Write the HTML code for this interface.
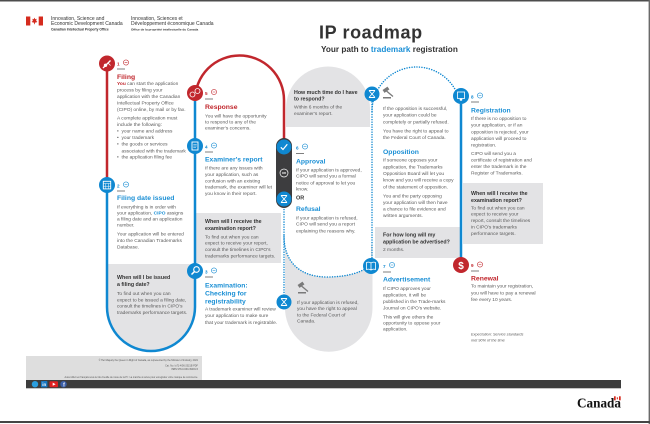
<!DOCTYPE html>
<html><head><meta charset="utf-8">
<style>
html,body{margin:0;padding:0;background:#fff;width:650px;height:424px;overflow:hidden}
svg{display:block}
.b{font-size:4.85px;fill:#5b5b5b}
.h{font-size:6.8px;font-weight:bold}
.q{font-size:5.3px;font-weight:bold;fill:#333}
.n{font-size:4.6px;font-weight:bold}
.hb{fill:#1a8fd5}.hr{fill:#c1272d}
</style></head>
<body>
<svg width="650" height="424" viewBox="0 0 650 424" xmlns="http://www.w3.org/2000/svg" font-family="'Liberation Sans', Arial, sans-serif">
<!-- frame -->
<rect x="0" y="0" width="650" height="1.5" fill="#4d4d4d"/>
<rect x="648.6" y="0" width="1.4" height="424" fill="#6a6a6a"/>
<rect x="0" y="421" width="650" height="2" fill="#454545"/>

<!-- header -->
<rect x="26" y="16.5" width="17" height="9" fill="#fff"/>
<rect x="26" y="16.5" width="4.3" height="9" fill="#d52b1e"/>
<rect x="38.7" y="16.5" width="4.3" height="9" fill="#d52b1e"/>
<path d="M34.5 17.6 L35.3 19.3 L36.6 18.8 L36.1 21.4 L37.2 21 L36.9 22.3 L35 22.6 L34.8 24.3 L34.2 24.3 L34 22.6 L32.1 22.3 L31.8 21 L32.9 21.4 L32.4 18.8 L33.7 19.3 Z" fill="#d52b1e"/>
<text x="51" y="19.8" font-size="5" fill="#333">Innovation, Science and</text>
<text x="51" y="25.2" font-size="5" fill="#333">Economic Development Canada</text>
<text x="51" y="30.4" font-size="3.3" font-weight="bold" fill="#333">Canadian Intellectual Property Office</text>
<text x="131" y="19.8" font-size="5" fill="#333">Innovation, Sciences et</text>
<text x="131" y="25.2" font-size="5" fill="#333">Développement économique Canada</text>
<text x="131" y="30.4" font-size="3.1" font-weight="bold" fill="#333">Office de la propriété intellectuelle du Canada</text>

<text x="319" y="38.5" font-size="18" font-weight="bold" letter-spacing="0.6" fill="#333">IP roadmap</text>
<text x="321" y="52" font-size="8.2" font-weight="bold" fill="#333">Your path to <tspan fill="#1a8fd6">trademark</tspan> registration</text>

<!-- grey shapes -->
<path d="M107 264 H195 V307 A44 44 0 0 1 107 307 Z" fill="#e3e3e5"/>
<rect x="196" y="213" width="85" height="50" fill="#e3e3e5"/>
<path d="M286 127 V108.5 A42 42 0 0 1 370 108.5 V127 Z" fill="#e3e3e5"/>
<path d="M285 245 H372.5 V308 A43.75 43.75 0 0 1 285 308 Z" fill="#e3e3e5"/>
<path d="M284 207 V236 C284 262 300 277 327 277 C348 277 364 272 371 264 V207 Z" fill="#fff"/>
<rect x="375" y="227" width="85" height="31" fill="#e3e3e5"/>
<rect x="463" y="183" width="80" height="61" fill="#e3e3e5"/>

<!-- connectors -->
<path d="M107 70 V178" stroke="#c1272d" stroke-width="2.5" fill="none"/>
<path d="M107 192 V307 A44 44 0 0 0 195 307 V101" stroke="#0f88d1" stroke-width="2.5" fill="none"/>
<path d="M195 100 A44.5 44.5 0 0 1 284 100 V141" stroke="#c1272d" stroke-width="2.5" fill="none"/>
<path d="M461 104 V258" stroke="#0f88d1" stroke-width="2.5" fill="none"/>
<g stroke="#0f88d1" stroke-width="1.5" stroke-linecap="round" stroke-dasharray="0.01 2.5" fill="none">
<path d="M284 207 V295"/>
<path d="M284 236 C284 262 300 277 327 277 C348 277 364 272 371 264"/>
<path d="M372 102 V258"/>
<path d="M372 111.5 A44.5 44.5 0 0 1 461 111.5"/>
</g>

<!-- dark pill -->
<rect x="276" y="138" width="16" height="70" rx="8" fill="#3d3d3f"/>

<!-- circles -->
<circle cx="107" cy="63.5" r="8" fill="#c1272d"/>
<path d="M103 68 L110.5 60.5" stroke="#fff" stroke-width="1.3"/><circle cx="105.5" cy="65.3" r="1.7" fill="#fff"/><path d="M108 63 l2.5 2.5" stroke="#fff" stroke-width="0.8"/>
<circle cx="107" cy="185" r="8" fill="#0f88d1"/>
<rect x="103.3" y="181.3" width="7.4" height="7.6" fill="none" stroke="#fff" stroke-width="0.9"/><path d="M103.3 183.5 H110.7 M105.8 183.5 V188.9 M108.3 183.5 V188.9 M103.3 186.2 H110.7" stroke="#fff" stroke-width="0.5"/>
<circle cx="195" cy="271" r="8" fill="#0f88d1"/>
<circle cx="196.5" cy="269.5" r="2.8" fill="none" stroke="#fff" stroke-width="1.1"/><path d="M194.5 271.5 L191.5 274.5" stroke="#fff" stroke-width="1.5"/>
<circle cx="195" cy="146" r="8" fill="#0f88d1"/>
<rect x="192" y="142" width="6" height="8" fill="none" stroke="#fff" stroke-width="0.9"/><path d="M193.3 144.3 H196.7 M193.3 146 H196.7 M193.3 147.7 H196" stroke="#fff" stroke-width="0.5"/>
<circle cx="195" cy="93" r="8" fill="#c1272d"/>
<circle cx="192.5" cy="94.5" r="2.5" fill="none" stroke="#fff" stroke-width="0.8"/><circle cx="197.5" cy="91" r="2.5" fill="none" stroke="#fff" stroke-width="0.8"/>
<circle cx="284" cy="147" r="7.5" fill="#0f88d1"/>
<path d="M280.8 147.3 L283 149.5 L287.3 144.3" stroke="#fff" stroke-width="1.2" fill="none"/>
<circle cx="284" cy="173" r="4" fill="#3d3d3f" stroke="#fff" stroke-width="0.7"/>
<text x="284" y="174" font-size="2.6" font-weight="bold" fill="#fff" text-anchor="middle">OR</text>
<circle cx="284" cy="199" r="7.5" fill="#0f88d1"/>
<path d="M281 195.5 L287 202.5 M287 195.5 L281 202.5 M281 195.5 H287 M281 202.5 H287" stroke="#fff" stroke-width="0.9" fill="none"/>
<circle cx="284" cy="302" r="7.5" fill="#0f88d1"/>
<path d="M281 298.5 L287 305.5 M287 298.5 L281 305.5 M281 298.5 H287 M281 305.5 H287" stroke="#fff" stroke-width="0.9" fill="none"/>
<circle cx="372" cy="94" r="7.5" fill="#0f88d1"/>
<path d="M369 90.5 L375 97.5 M375 90.5 L369 97.5 M369 90.5 H375 M369 97.5 H375" stroke="#fff" stroke-width="0.9" fill="none"/>
<circle cx="371" cy="266" r="8" fill="#0f88d1"/>
<path d="M366.5 262.5 Q369 261.5 371 263 Q373 261.5 375.5 262.5 V269.5 Q373 268.5 371 270 Q369 268.5 366.5 269.5 Z M371 263 V270" stroke="#fff" stroke-width="0.8" fill="none"/>
<circle cx="461" cy="96" r="8" fill="#0f88d1"/>
<rect x="457.5" y="92" width="7" height="6.5" fill="none" stroke="#fff" stroke-width="0.8"/><circle cx="461" cy="99.5" r="1.3" fill="#fff"/>
<circle cx="461" cy="265" r="8" fill="#c1272d"/>
<text x="461" y="268.8" font-size="10" font-weight="bold" fill="#fff" text-anchor="middle">$</text>

<!-- gavels -->
<g fill="#7a7a7a"><rect x="383" y="88" width="6" height="3.4" transform="rotate(-35 386 89.7)"/><path d="M386.5 91 L393 96.5" stroke="#7a7a7a" stroke-width="1.3"/><rect x="383" y="97" width="8" height="1.5"/></g>
<g fill="#7a7a7a"><rect x="298" y="283" width="6" height="3.4" transform="rotate(-35 301 284.7)"/><path d="M301.5 286 L308 291.5" stroke="#7a7a7a" stroke-width="1.3"/><rect x="298" y="292" width="8" height="1.5"/></g>

<!-- labels -->
<g class="n">
<text x="117" y="65.5" fill="#c1272d">1</text>
<text x="117" y="187.5" fill="#0f88d1">2</text>
<text x="205" y="273.5" fill="#0f88d1">3</text>
<text x="205" y="148.5" fill="#0f88d1">4</text>
<text x="205" y="95" fill="#c1272d">5</text>
<text x="296" y="149.5" fill="#0f88d1">6</text>
<text x="383" y="268" fill="#0f88d1">7</text>
<text x="471" y="98.5" fill="#0f88d1">8</text>
<text x="471" y="267" fill="#c1272d">9</text>
</g>
<g fill="none" stroke-width="0.6">
<circle cx="126" cy="62.5" r="2.6" stroke="#c1272d"/><circle cx="126" cy="184.5" r="2.6" stroke="#0f88d1"/>
<circle cx="214" cy="270.5" r="2.6" stroke="#0f88d1"/><circle cx="214" cy="145.5" r="2.6" stroke="#0f88d1"/>
<circle cx="214" cy="92" r="2.6" stroke="#c1272d"/><circle cx="305" cy="146.5" r="2.6" stroke="#0f88d1"/>
<circle cx="392" cy="265" r="2.6" stroke="#0f88d1"/><circle cx="480" cy="95.5" r="2.6" stroke="#0f88d1"/>
<circle cx="480" cy="264.5" r="2.6" stroke="#c1272d"/>
<path d="M124.6 62.5 h2.8" stroke="#c1272d"/><path d="M124.6 184.5 h2.8 M212.6 270.5 h2.8 M212.6 145.5 h2.8 M303.6 146.5 h2.8 M390.6 265 h2.8 M478.6 95.5 h2.8" stroke="#0f88d1"/>
<path d="M212.6 92 h2.8 M478.6 264.5 h2.8" stroke="#c1272d"/>
</g>
<g stroke="#555" stroke-width="0.7">
<path d="M117 69 h8 M117 191 h8 M205 277 h8 M205 152 h8 M205 99 h8 M296 153.5 h8 M383 272 h8 M471 102 h8 M471 271 h8"/>
</g>

<!-- Filing -->
<text x="117" y="79" class="h hr">Filing</text>
<g class="b">
<text x="117" y="85"><tspan fill="#c1272d" font-weight="bold">You</tspan> can start the application</text>
<text x="117" y="91.4">process by filing your</text>
<text x="117" y="97.9">application with the Canadian</text>
<text x="117" y="104.3">Intellectual Property Office</text>
<text x="117" y="110.9">(CIPO) online, by mail or by fax.</text>
<text x="117" y="119.6">A complete application must</text>
<text x="117" y="125.8">include the following:</text>
<text x="117" y="132.3">•</text><text x="121.5" y="132.3">your name and address</text>
<text x="117" y="138.9">•</text><text x="121.5" y="138.9">your trademark</text>
<text x="117" y="145.6">•</text><text x="121.5" y="145.6">the goods or services</text>
<text x="121.5" y="152.3">associated with the trademark</text>
<text x="117" y="158.4">•</text><text x="121.5" y="158.4">the application filing fee</text>
</g>

<!-- Filing date issued -->
<text x="117" y="200" class="h hb">Filing date issued</text>
<g class="b">
<text x="117" y="208.3">If everything is in order with</text>
<text x="117" y="214.3">your application, <tspan fill="#1a8fd5" font-weight="bold">CIPO</tspan> assigns</text>
<text x="117" y="220.6">a filing date and an application</text>
<text x="117" y="226.6">number.</text>
<text x="117" y="235.6">Your application will be entered</text>
<text x="117" y="241.9">into the Canadian Trademarks</text>
<text x="117" y="248.3">Database.</text>
</g>
<text x="117" y="279" class="q">When will I be issued</text>
<text x="117" y="286" class="q">a filing date?</text>
<g class="b">
<text x="117" y="295">To find out when you can</text>
<text x="117" y="301.3">expect to be issued a filing date,</text>
<text x="117" y="307.6">consult the timelines in CIPO's</text>
<text x="117" y="313.9">trademarks performance targets.</text>
</g>

<!-- Examination -->
<text x="205" y="287.3" class="h hb">Examination:</text>
<text x="205" y="295.5" class="h hb">Checking for</text>
<text x="205" y="303.3" class="h hb">registrability</text>
<g class="b">
<text x="205" y="310.6">A trademark examiner will review</text>
<text x="205" y="317.2">your application to make sure</text>
<text x="205" y="323.8">that your trademark is registrable.</text>
</g>

<!-- Examiner's report -->
<text x="205" y="161.6" class="h hb">Examiner's report</text>
<g class="b">
<text x="205" y="169.3">If there are any issues with</text>
<text x="205" y="175.9">your application, such as</text>
<text x="205" y="182.3">confusion with an existing</text>
<text x="205" y="188.6">trademark, the examiner will let</text>
<text x="205" y="194.9">you know in their report.</text>
</g>
<text x="205" y="222.8" class="q">When will I receive the</text>
<text x="205" y="230" class="q">examination report?</text>
<g class="b">
<text x="205" y="238.3">To find out when you can</text>
<text x="205" y="244.6">expect to receive your report,</text>
<text x="205" y="250.9">consult the timelines in CIPO's</text>
<text x="205" y="257.6">trademarks performance targets.</text>
</g>

<!-- Response -->
<text x="205" y="109" class="h hr">Response</text>
<g class="b">
<text x="205" y="117.3">You will have the opportunity</text>
<text x="205" y="123.3">to respond to any of the</text>
<text x="205" y="129.6">examiner's concerns.</text>
</g>

<!-- Approval / Refusal -->
<text x="296" y="163.3" class="h hb">Approval</text>
<g class="b">
<text x="296" y="171.3">If your application is approved,</text>
<text x="296" y="177.6">CIPO will send you a formal</text>
<text x="296" y="184.3">notice of approval to let you</text>
<text x="296" y="190.6">know.</text>
</g>
<text x="296" y="199.3" font-size="5.5" font-weight="bold" fill="#333">OR</text>
<text x="296" y="211" class="h hb">Refusal</text>
<g class="b">
<text x="296" y="219.6">If your application is refused,</text>
<text x="296" y="225.6">CIPO will send you a report</text>
<text x="296" y="232.6">explaining the reasons why.</text>
</g>

<!-- time to respond -->
<text x="294" y="93.8" class="q">How much time do I have</text>
<text x="294" y="100.5" class="q">to respond?</text>
<g class="b">
<text x="294" y="108.3">Within 6 months of the</text>
<text x="294" y="115">examiner's report.</text>
</g>

<!-- lower grey -->
<g class="b">
<text x="297" y="303.9">If your application is refused,</text>
<text x="297" y="310">you have the right to appeal</text>
<text x="297" y="316.3">to the Federal Court of</text>
<text x="297" y="322.6">Canada.</text>
</g>

<!-- Opposition -->
<g class="b">
<text x="383" y="109.9">If the opposition is successful,</text>
<text x="383" y="116.6">your application could be</text>
<text x="383" y="123.3">completely or partially refused.</text>
<text x="383" y="132.6">You have the right to appeal to</text>
<text x="383" y="138.9">the Federal Court of Canada.</text>
</g>
<text x="383" y="154" class="h hb">Opposition</text>
<g class="b">
<text x="383" y="161.6">If someone opposes your</text>
<text x="383" y="168.3">application, the Trademarks</text>
<text x="383" y="174.9">Opposition Board will let you</text>
<text x="383" y="181.6">know and you will receive a copy</text>
<text x="383" y="188.3">of the statement of opposition.</text>
<text x="383" y="197.3">You and the party opposing</text>
<text x="383" y="203.9">your application will then have</text>
<text x="383" y="210.6">a chance to file evidence and</text>
<text x="383" y="217">written arguments.</text>
</g>
<text x="383" y="236.4" class="q">For how long will my</text>
<text x="383" y="243.4" class="q">application be advertised?</text>
<text x="383" y="251" class="b">2 months.</text>

<!-- Advertisement -->
<text x="383" y="281.6" class="h hb">Advertisement</text>
<g class="b">
<text x="383" y="289.9">If CIPO approves your</text>
<text x="383" y="296.3">application, it will be</text>
<text x="383" y="302.9">published in the Trade-marks</text>
<text x="383" y="309.3">Journal on CIPO's website.</text>
<text x="383" y="318.3">This will give others the</text>
<text x="383" y="324.6">opportunity to oppose your</text>
<text x="383" y="330.6">application.</text>
</g>

<!-- Registration -->
<text x="471" y="112.3" class="h hb">Registration</text>
<g class="b">
<text x="471" y="119.9">If there is no opposition to</text>
<text x="471" y="126.6">your application, or if an</text>
<text x="471" y="133.3">opposition is rejected, your</text>
<text x="471" y="139.9">application will proceed to</text>
<text x="471" y="146.6">registration.</text>
<text x="471" y="154.9">CIPO will send you a</text>
<text x="471" y="161.6">certificate of registration and</text>
<text x="471" y="167.9">enter the trademark in the</text>
<text x="471" y="174.3">Register of Trademarks.</text>
</g>
<text x="471" y="194.8" class="q">When will I receive the</text>
<text x="471" y="202" class="q">examination report?</text>
<g class="b">
<text x="471" y="209.3">To find out when you can</text>
<text x="471" y="215.6">expect to receive your</text>
<text x="471" y="221.9">report, consult the timelines</text>
<text x="471" y="228.3">in CIPO's trademarks</text>
<text x="471" y="234.9">performance targets.</text>
</g>

<!-- Renewal -->
<text x="471" y="280.3" class="h hr">Renewal</text>
<g class="b">
<text x="471" y="287.6">To maintain your registration,</text>
<text x="471" y="294.3">you will have to pay a renewal</text>
<text x="471" y="300.9">fee every 10 years.</text>
</g>
<text x="471" y="335.3" font-size="3.8" font-style="italic" fill="#5b5b5b">Expectation: Service standards</text>
<text x="471" y="341.3" font-size="3.8" font-style="italic" fill="#5b5b5b">met 90% of the time</text>

<!-- footer -->
<rect x="26" y="356" width="176" height="24" fill="#dedede"/>
<g font-size="2.4" fill="#555" text-anchor="end">
<text x="198" y="360.8">© Her Majesty the Queen in Right of Canada, as represented by the Minister of Industry, 2021</text>
<text x="198" y="366.5">Cat. No. Iu71-4/56-2021E-PDF</text>
<text x="198" y="370.2">ISBN 978-0-660-39481-5</text>
<text x="198" y="378">Aussi offert en français sous le titre Feuille de route de la PI : La marche à suivre pour enregistrer votre marque de commerce.</text>
</g>
<rect x="26" y="380" width="595" height="8.3" fill="#3d3d3d"/>
<circle cx="35" cy="384.2" r="3.2" fill="#2a9fe0"/>
<rect x="41" y="381" width="6.4" height="6.4" rx="0.8" fill="#1a78c2"/>
<text x="44.2" y="386.2" font-size="4.4" font-weight="bold" fill="#fff" text-anchor="middle">in</text>
<rect x="49.5" y="381.2" width="8.5" height="6" rx="1" fill="#e02020"/>
<path d="M52.7 382.6 L55.6 384.2 L52.7 385.8 Z" fill="#fff"/>
<circle cx="63.5" cy="384.2" r="3.2" fill="#3b5fa8"/>
<text x="64" y="386.6" font-size="5" font-weight="bold" fill="#fff" text-anchor="middle">f</text>

<!-- Canada wordmark -->
<text x="577" y="407.5" font-family="'Liberation Serif', serif" font-size="13.2" font-weight="bold" fill="#111">Canada</text>
<rect x="614" y="396.3" width="6.7" height="4" fill="#fff"/>
<rect x="614" y="396.3" width="1.7" height="4" fill="#d52b1e"/>
<rect x="619" y="396.3" width="1.7" height="4" fill="#d52b1e"/>
<rect x="616.8" y="397.3" width="1.1" height="2" fill="#d52b1e"/>
</svg>
</body></html>
